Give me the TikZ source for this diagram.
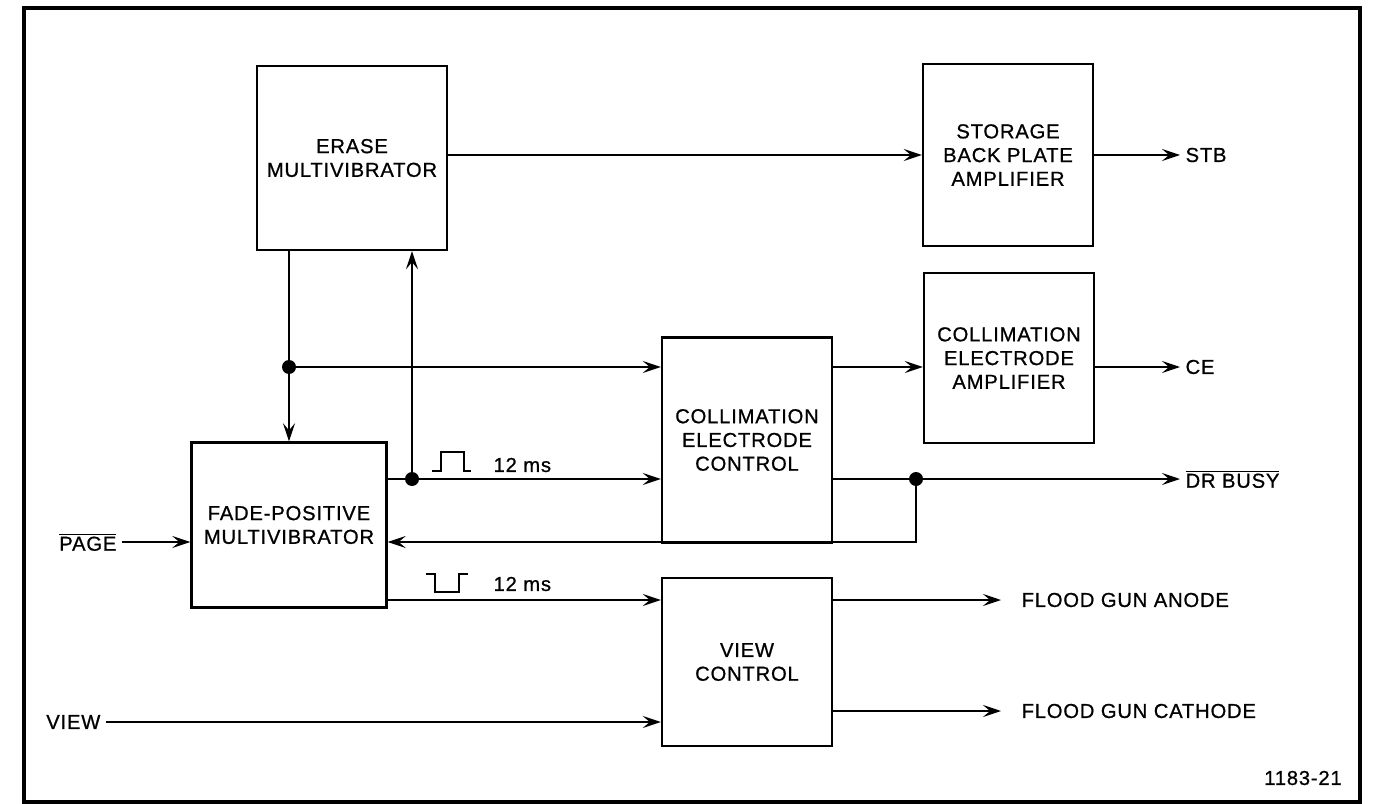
\documentclass[tikz,border=0pt]{standalone}
\usepackage{fontspec}
\setmainfont{Liberation Sans}[LetterSpace=4,FakeBold=0.8]
\usetikzlibrary{arrows.meta}

\begin{document}
\begin{tikzpicture}[x=0.02cm,y=-0.02cm,font=\fontsize{11.5}{13.5}\selectfont]
		\tikzstyle{bloc}=[draw,line width=1.4pt,align=center,inner sep=0pt]
		\tikzstyle{fleche}=[->,>={Stealth[length=3.6mm,width=2.4mm,inset=1.4mm]},line width=1.3pt]
		\tikzstyle{trait}=[line width=1.3pt]
		\tikzstyle{point}=[circle,fill,inner sep=0pt,minimum size=0.28cm]
		\tikzstyle{signal}=[inner sep=3pt]
		
		\def\LigneB{367}
		\def\LigneC{479}
		\def\LigneD{542}
		\def\LigneE{600}
		\def\LigneF{711}
		\def\LigneG{722}
		
		\useasboundingbox (0,0) rectangle (1382,804);
		\draw[line width=1.8pt] (24,8) rectangle (1360,802);
		
		\node[bloc,minimum width=3.8cm,minimum height=3.68cm] (EM) at (352,158) {ERASE\\MULTIVIBRATOR};
		\node[bloc,minimum width=3.4cm,minimum height=3.64cm] (SBP) at (1008,155) {STORAGE\\BACK PLATE\\AMPLIFIER};
		\node[bloc,minimum width=3.4cm,minimum height=3.4cm] (CEA) at (1009,358) {COLLIMATION\\ELECTRODE\\AMPLIFIER};
		\node[bloc,minimum width=3.4cm,minimum height=4.1cm] (CEC) at (747,440) {COLLIMATION\\ELECTRODE\\CONTROL};
		\node[bloc,minimum width=3.9cm,minimum height=3.3cm] (FPM) at (289,525) {FADE-POSITIVE\\MULTIVIBRATOR};
		\node[bloc,minimum width=3.4cm,minimum height=3.36cm] (VC) at (747,662) {VIEW\\CONTROL};
		
		\node[point] (j1) at (289,\LigneB) {};
		\node[point] (j2) at (412,\LigneC) {};
		\node[point] (j3) at (916,\LigneC) {};
		
		\node[signal,anchor=west] (stb) at (1180,155) {STB};
		\node[signal,anchor=west] (ce) at (1180,\LigneB) {CE};
		\node[signal,anchor=west] (drbusy) at (1180,\LigneC) {$\overline{\mbox{DR BUSY}}$};
		\node[signal,anchor=west] (anode) at (1016,\LigneE) {FLOOD GUN ANODE};
		\node[signal,anchor=west] (cathode) at (1016,\LigneF) {FLOOD GUN CATHODE};
		\node[signal,anchor=east] (page) at (122,\LigneD) {$\overline{\mbox{PAGE}}$};
		\node[signal,anchor=east] (view) at (106,\LigneG) {VIEW};
		\node[signal,anchor=west] (d1) at (488,465) {12 ms};
		\node[signal,anchor=west] (d2) at (488,584) {12 ms};
		\node (ref) at (1303,778) {1183-21};
		
		% impulsions
		\draw[line width=1.1pt] (432,471) -- (441,471) -- (441,452) -- (464,452) -- (464,471) -- (471,471);
		\draw[line width=1.1pt] (426,574) -- (435,574) -- (435,592) -- (459,592) -- (459,574) -- (468,574);
		
		\draw[fleche] (EM.east |- SBP.west) -- (SBP.west);
		\draw[fleche] (SBP.east) -- (stb.west);
		\draw[trait] (EM.south -| j1) -- (j1);
		\draw[fleche] (j1) -- (FPM.north);
		\draw[fleche] (j1) -- (CEC.west |- j1);
		\draw[fleche] (CEC.east |- ce) -- (CEA.west |- ce);
		\draw[fleche] (CEA.east |- ce) -- (ce.west);
		\draw[fleche] (FPM.east |- j2) -- (CEC.west |- j2);
		\draw[fleche] (j2) -- (EM.south -| j2);
		\draw[fleche] (CEC.east |- j3) -- (drbusy.west);
		\draw[fleche] (j3) |- (FPM.east |- page);
		\draw[fleche] (page) -- (FPM.west |- page);
		\draw[fleche] (FPM.east |- anode) -- (VC.west |- anode);
		\draw[fleche,shorten >=0.3cm] (VC.east |- anode) -- (anode.west);
		\draw[fleche,shorten >=0.3cm] (VC.east |- cathode) -- (cathode.west);
		\draw[fleche] (view) -- (VC.west |- view);
\end{tikzpicture}
\end{document}
